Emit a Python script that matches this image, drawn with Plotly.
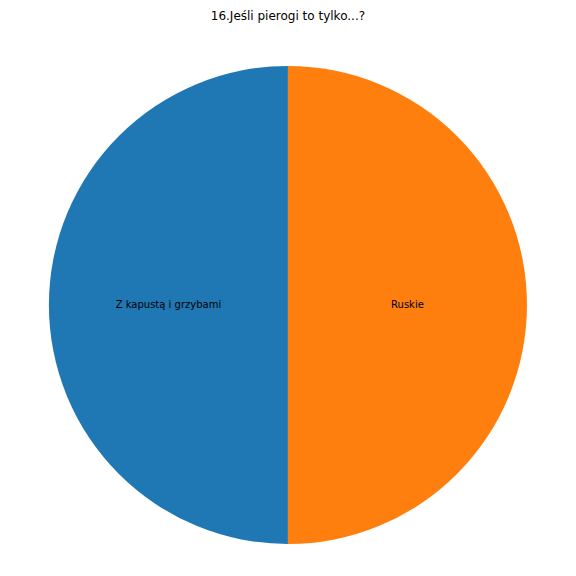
import plotly.graph_objects as go

title = "16.Jeśli pierogi to tylko...?"
labels = ["Z kapustą i grzybami", "Ruskie"]
values = [1, 1]
colors = ["#1f77b4", "#ff7f0e"]

fig = go.Figure()
fig.add_trace(go.Pie(
    labels=labels,
    values=values,
    sort=False,
    direction="clockwise",
    rotation=180,
    marker=dict(colors=colors, line=dict(width=0)),
    textinfo="label",
    textposition="inside",
    insidetextorientation="horizontal",
    textfont=dict(family="DejaVu Sans", size=10, color="black"),
    domain=dict(x=[0.071, 0.901], y=[0.0694, 0.8994]),
    showlegend=False,
    hoverinfo="label+percent",
))
fig.update_layout(
    width=576,
    height=576,
    margin=dict(l=0, r=0, t=0, b=0),
    paper_bgcolor="white",
    plot_bgcolor="white",
    title=dict(text=title, x=0.486, xanchor="center", y=0.994, yanchor="top",
               font=dict(family="DejaVu Sans", size=12, color="black")),
)
fig.write_html("out.html")
